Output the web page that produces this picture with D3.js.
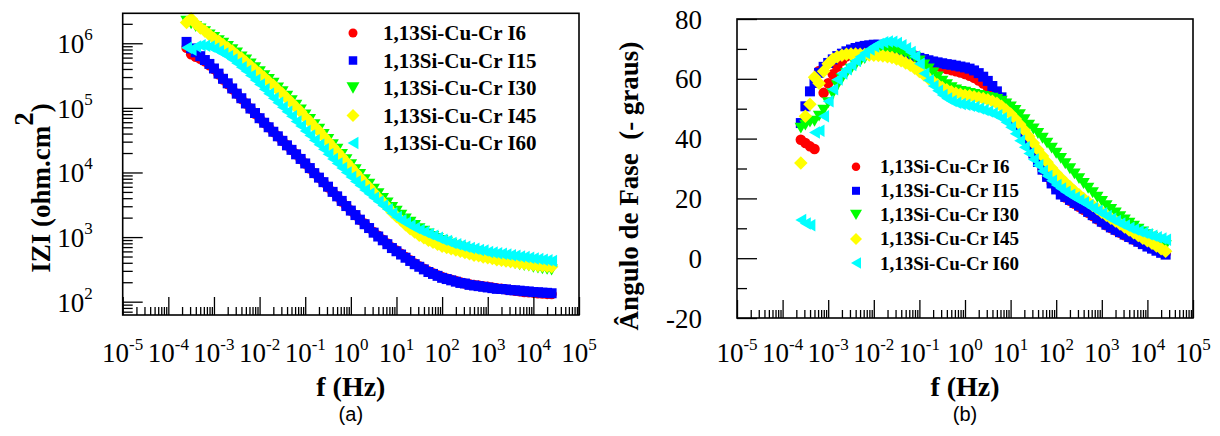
<!DOCTYPE html>
<html>
<head>
<meta charset="utf-8">
<script src="https://cdn.jsdelivr.net/npm/d3@7"></script>
<style>
  body { margin: 0; background: #fff; }
</style>
</head>
<body>
<script>
// frequency (Hz), shared by all runs
var freqHz = [2.51e-4, 3.16e-4, 3.98e-4, 5.01e-4, 6.31e-4, 7.94e-4,
  1e-3, 1.26e-3, 1.58e-3, 2e-3, 2.51e-3, 3.16e-3, 3.98e-3, 5.01e-3, 6.31e-3, 7.94e-3,
  1e-2, 1.26e-2, 1.58e-2, 2e-2, 2.51e-2, 3.16e-2, 3.98e-2, 5.01e-2, 6.31e-2, 7.94e-2,
  0.1, 0.126, 0.158, 0.2, 0.251, 0.316, 0.398, 0.501, 0.631, 0.794,
  1, 1.26, 1.58, 2, 2.51, 3.16, 3.98, 5.01, 6.31, 7.94,
  10, 12.6, 15.8, 20, 25.1, 31.6, 39.8, 50.1, 63.1, 79.4,
  100, 126, 158, 200, 251, 316, 398, 501, 631, 794,
  1000, 1260, 1580, 2000, 2510, 3160, 3980, 5010, 6310, 7940,
  10000, 12600, 15800, 20000, 25100];

var seriesNames = ['1,13Si-Cu-Cr I6', '1,13Si-Cu-Cr I15', '1,13Si-Cu-Cr I30', '1,13Si-Cu-Cr I45', '1,13Si-Cu-Cr I60'];

// |Z| (ohm.cm2)
var zI6 = [8.51e5, 6.76e5, 6.17e5, 5.75e5, 5.25e5, 4.57e5, 3.98e5, 3.31e5, 2.75e5, 2.34e5,
  1.95e5, 1.66e5, 1.38e5, 1.17e5, 9.77e4, 8.13e4, 6.92e4, 5.89e4, 5.01e4, 4.27e4,
  3.63e4, 3.09e4, 2.63e4, 2.24e4, 1.91e4, 1.62e4, 1.38e4, 1.15e4, 9.77e3, 8.32e3,
  7.08e3, 5.89e3, 5.01e3, 4.27e3, 3.55e3, 3.02e3, 2.57e3, 2.19e3, 1.86e3, 1.62e3,
  1.38e3, 1.20e3, 1.05e3, 912, 794, 692, 617, 550, 490, 437,
  389, 355, 324, 295, 275, 257, 240, 229, 219, 209,
  200, 191, 186, 182, 178, 174, 170, 166, 162, 158,
  155, 151, 148, 145, 141, 140, 138, 135, 134, 132, 131];
var zI15 = [1.05e6, 8.32e5, 7.24e5, 6.31e5, 5.50e5, 4.79e5, 4.07e5, 3.39e5, 2.82e5, 2.40e5,
  2.00e5, 1.66e5, 1.41e5, 1.17e5, 9.77e4, 8.32e4, 6.92e4, 5.89e4, 5.01e4, 4.27e4,
  3.63e4, 3.09e4, 2.63e4, 2.24e4, 1.91e4, 1.62e4, 1.38e4, 1.17e4, 9.77e3, 8.32e3,
  7.08e3, 6.03e3, 5.01e3, 4.27e3, 3.63e3, 3.02e3, 2.57e3, 2.19e3, 1.86e3, 1.58e3,
  1.38e3, 1.17e3, 1.02e3, 891, 776, 676, 603, 537, 479, 427,
  380, 347, 316, 288, 269, 251, 234, 224, 214, 204,
  195, 191, 182, 178, 174, 170, 166, 162, 158, 157,
  155, 151, 150, 148, 145, 144, 141, 140, 138, 137, 135];
var zI30 = [2.19e6, 2.00e6, 1.82e6, 1.66e6, 1.51e6, 1.35e6, 1.23e6, 1.10e6, 1.00e6, 8.91e5,
  7.94e5, 7.08e5, 6.17e5, 5.50e5, 4.79e5, 4.17e5, 3.63e5, 3.16e5, 2.75e5, 2.40e5,
  2.04e5, 1.78e5, 1.51e5, 1.29e5, 1.10e5, 9.33e4, 7.76e4, 6.61e4, 5.50e4, 4.68e4,
  3.89e4, 3.24e4, 2.69e4, 2.29e4, 1.91e4, 1.58e4, 1.32e4, 1.10e4, 9.33e3, 7.76e3,
  6.61e3, 5.50e3, 4.68e3, 3.98e3, 3.39e3, 2.88e3, 2.51e3, 2.19e3, 1.91e3, 1.70e3,
  1.51e3, 1.35e3, 1.23e3, 1.12e3, 1.02e3, 955, 891, 832, 776, 724,
  692, 646, 617, 589, 562, 537, 501, 479, 457, 437,
  417, 398, 389, 372, 363, 355, 339, 331, 324, 316, 309];
var zI45 = [2.09e6, 2.40e6, 2.00e6, 1.74e6, 1.55e6, 1.35e6, 1.20e6, 1.07e6, 9.55e5, 8.51e5,
  7.59e5, 6.61e5, 5.89e5, 5.13e5, 4.47e5, 3.89e5, 3.39e5, 2.95e5, 2.57e5, 2.24e5,
  1.91e5, 1.66e5, 1.41e5, 1.20e5, 1.02e5, 8.71e4, 7.24e4, 6.17e4, 5.13e4, 4.37e4,
  3.63e4, 3.02e4, 2.51e4, 2.09e4, 1.74e4, 1.45e4, 1.20e4, 1.00e4, 8.32e3, 6.92e3,
  5.89e3, 4.90e3, 4.07e3, 3.47e3, 2.95e3, 2.45e3, 2.09e3, 1.82e3, 1.55e3, 1.35e3,
  1.20e3, 1.07e3, 977, 891, 832, 776, 724, 692, 661, 631,
  603, 575, 550, 525, 513, 490, 479, 468, 447, 437,
  427, 417, 407, 398, 389, 380, 372, 363, 360, 355, 347];
var zI60 = [8.51e5, 7.94e5, 8.91e5, 9.33e5, 9.12e5, 8.91e5, 8.32e5, 7.59e5, 6.92e5, 6.31e5,
  5.62e5, 4.90e5, 4.27e5, 3.72e5, 3.16e5, 2.69e5, 2.29e5, 1.95e5, 1.66e5, 1.41e5,
  1.20e5, 1.02e5, 8.71e4, 7.41e4, 6.17e4, 5.25e4, 4.37e4, 3.72e4, 3.16e4, 2.69e4,
  2.29e4, 1.91e4, 1.62e4, 1.38e4, 1.17e4, 1.00e4, 8.51e3, 7.24e3, 6.31e3, 5.37e3,
  4.68e3, 4.07e3, 3.55e3, 3.09e3, 2.69e3, 2.34e3, 2.04e3, 1.82e3, 1.66e3, 1.51e3,
  1.38e3, 1.29e3, 1.20e3, 1.12e3, 1.05e3, 977, 912, 871, 813, 776,
  741, 708, 676, 661, 631, 617, 589, 575, 562, 550,
  537, 525, 513, 501, 490, 479, 468, 457, 447, 437, 427];

// phase angle (- degrees)
var phI6 = [39.6, 38.5, 37.4, 36.5, 62.6, 55.3, 58.5, 61.5, 64.0, 66.0,
  67.5, 68.6, 69.4, 70.0, 70.5, 70.8, 71.0, 71.1, 71.0, 70.8,
  70.4, 69.9, 69.3, 68.6, 67.9, 67.2, 66.5, 65.9, 65.3, 64.7,
  64.2, 63.7, 63.3, 62.9, 62.5, 62.1, 61.6, 61.0, 60.3, 59.4,
  58.4, 57.2, 55.9, 54.4, 52.7, 50.8, 48.7, 46.3, 43.7, 40.9,
  38.0, 35.1, 32.3, 29.7, 27.3, 25.2, 23.3, 21.7, 20.3, 19.2,
  18.2, 17.2, 16.2, 15.2, 14.1, 13.0, 12.0, 11.0, 10.1, 9.3,
  8.5, 7.7, 7.0, 6.2, 5.5, 4.8, 4.1, 3.4, 2.8, 2.2, 1.6];
var phI15 = [45.2, 50.8, 55.8, 58.6, 62.0, 64.0, 65.3, 66.5, 67.6, 68.4,
  69.2, 69.8, 70.3, 70.7, 71.0, 71.2, 71.4, 71.4, 71.3, 71.1,
  70.6, 70.1, 69.5, 68.8, 68.1, 67.5, 67.0, 66.6, 66.2, 65.8,
  65.5, 65.2, 64.9, 64.7, 64.4, 64.1, 63.8, 63.4, 62.8, 61.9,
  60.7, 59.3, 57.6, 55.8, 53.8, 51.6, 49.2, 46.6, 43.8, 40.9,
  37.9, 35.0, 32.2, 29.6, 27.2, 25.0, 23.0, 21.3, 20.5, 19.5,
  18.5, 17.6, 16.6, 15.5, 14.4, 13.3, 12.2, 11.2, 10.3, 9.5,
  8.7, 7.9, 7.1, 6.3, 5.5, 4.7, 3.9, 3.2, 2.5, 1.8, 1.2];
var phI30 = [43.5, 44.5, 45.5, 45.8, 47.5, 49.5, 52.0, 55.0, 57.7, 60.0,
  61.8, 63.2, 64.6, 65.8, 66.8, 67.7, 68.5, 69.1, 69.5, 69.7,
  69.6, 69.3, 68.9, 68.4, 67.8, 67.1, 66.0, 64.6, 63.3, 62.0,
  60.6, 59.2, 58.0, 57.0, 56.3, 55.8, 55.5, 55.1, 54.8, 54.4,
  54.1, 53.8, 53.5, 53.1, 52.5, 51.6, 50.6, 49.4, 48.0, 46.3,
  44.5, 43.2, 41.7, 40.1, 38.5, 36.8, 35.1, 33.4, 31.6, 29.9,
  28.2, 26.6, 25.0, 23.4, 21.9, 20.4, 19.0, 17.6, 16.3, 15.1,
  13.9, 12.8, 11.7, 10.7, 9.7, 8.8, 7.9, 7.0, 6.1, 5.2, 4.2];
var phI45 = [31.8, 47.5, 51.5, 60.5, 58.5, 62.5, 65.0, 66.5, 67.4, 67.9,
  68.2, 68.3, 68.3, 68.2, 68.1, 68.0, 67.9, 67.8, 67.6, 67.4,
  67.1, 66.6, 66.0, 65.3, 64.5, 63.5, 62.4, 61.3, 60.1, 59.0,
  58.0, 57.1, 56.3, 55.7, 55.2, 54.8, 54.5, 54.3, 54.0, 53.7,
  53.4, 53.0, 52.5, 51.8, 50.8, 49.6, 48.2, 46.6, 44.8, 42.8,
  40.7, 38.5, 36.3, 34.2, 32.1, 30.2, 28.4, 26.8, 25.3, 23.9,
  22.5, 21.2, 20.0, 18.8, 17.6, 16.5, 15.4, 14.4, 13.4, 12.4,
  11.4, 10.4, 9.4, 8.5, 7.6, 6.7, 5.8, 5.0, 4.1, 3.2, 2.3];
var phI60 = [12.8, 11.6, 11.0, 42.0, 42.6, 47.5, 52.5, 56.5, 59.8, 61.8,
  63.2, 64.6, 66.0, 67.4, 68.6, 69.8, 70.8, 71.6, 72.2, 72.5,
  72.4, 72.0, 71.2, 70.2, 69.0, 67.5, 65.0, 61.8, 59.5, 57.6,
  56.0, 54.6, 53.4, 52.6, 52.0, 51.6, 51.3, 51.0, 50.6, 50.1,
  49.6, 49.1, 48.5, 47.8, 46.8, 45.5, 43.8, 41.6, 39.3, 37.1,
  35.0, 33.0, 31.1, 29.2, 27.5, 25.9, 24.5, 23.3, 22.2, 21.2,
  20.3, 19.5, 18.6, 17.7, 16.8, 15.9, 15.0, 14.1, 13.2, 12.4,
  11.6, 10.9, 10.2, 9.6, 9.0, 8.5, 8.0, 7.5, 7.0, 6.6, 6.2];

// tick labels
var freqTickExp = [-5, -4, -3, -2, -1, 0, 1, 2, 3, 4, 5];
var zTickExp = [2, 3, 4, 5, 6];
var phaseTicks = [-20, 0, 20, 40, 60, 80];

var colors = ['#ff0000', '#0000ff', '#00ff00', '#ffff00', '#00ffff'];
var SERIF = '"Liberation Serif", "DejaVu Serif", "Times New Roman", serif';
var SANS = '"Liberation Sans", Arial, sans-serif';

// marker shapes, size = width in px
var shapes = [
  { draw: function (c, s) { c.moveTo(s / 2, 0); c.arc(0, 0, s / 2, 0, 2 * Math.PI); } },
  { draw: function (c, s) { c.rect(-s / 2, -s / 2, s, s); } },
  { draw: function (c, s) { var h = s * 0.87; c.moveTo(-s / 2, -h / 2); c.lineTo(s / 2, -h / 2); c.lineTo(0, h / 2); c.closePath(); } },
  { draw: function (c, s) { c.moveTo(0, -s / 2); c.lineTo(s / 2, 0); c.lineTo(0, s / 2); c.lineTo(-s / 2, 0); c.closePath(); } },
  { draw: function (c, s) { var h = s * 0.87; c.moveTo(-h / 2, 0); c.lineTo(h / 2, -s / 2); c.lineTo(h / 2, s / 2); c.closePath(); } }
];
var markSize = [10.5, 10, 12.5, 13.5, 12.5];

var svg = d3.select('body').append('svg').attr('width', 1220).attr('height', 436)
  .attr('font-family', SERIF);

function isDecade(v) {
  var l = Math.log10(v);
  return Math.abs(l - Math.round(l)) < 1e-9;
}

function txt(sel) {
  return sel.append('text').style('font-family', SERIF).attr('fill', '#000');
}

function drawPanel(p) {
  var g = svg.append('g');
  var x = d3.scaleLog().domain([1e-5, 1e5]).range([p.left, p.right]);
  var y = p.y;

  // points
  p.values.forEach(function (vals, k) {
    var sym = d3.symbol().type(shapes[k]).size(markSize[k]);
    g.append('g')
      .selectAll('path')
      .data(freqHz.map(function (f, i) { return [f, vals[i]]; }))
      .join('path')
      .attr('transform', function (d) { return 'translate(' + x(d[0]) + ',' + y(d[1]) + ')'; })
      .attr('d', sym)
      .attr('fill', colors[k]);
  });

  // x axis, ticks pointing in
  var allX = x.ticks(20);
  var ax = g.append('g').attr('transform', 'translate(0,' + p.bottom + ')');
  ax.append('g').call(d3.axisBottom(x).tickValues(allX.filter(function (v) { return !isDecade(v); })).tickSize(-8).tickFormat(''));
  ax.append('g').call(d3.axisBottom(x).tickValues(allX.filter(isDecade)).tickSize(-18).tickFormat(''));
  ax.selectAll('.domain').remove();
  ax.selectAll('line').attr('stroke', '#000').attr('stroke-width', 1.3);

  freqTickExp.forEach(function (d) {
    var t = txt(g)
      .attr('x', x(Math.pow(10, d)))
      .attr('y', 362)
      .attr('text-anchor', 'middle')
      .attr('font-size', 27);
    t.append('tspan').text('10');
    t.append('tspan').attr('dy', -12).attr('font-size', 17).text(d);
  });

  // y axis
  var ay = g.append('g').attr('transform', 'translate(' + p.left + ',0)');
  ay.append('g').call(d3.axisLeft(y).tickValues(p.yMinor).tickSize(-10).tickFormat(''));
  ay.append('g').call(d3.axisLeft(y).tickValues(p.yMajor).tickSize(-20).tickFormat(''));
  ay.selectAll('.domain').remove();
  ay.selectAll('line').attr('stroke', '#000').attr('stroke-width', 1.3);
  p.yLabels(g, y);

  // frame
  g.append('rect')
    .attr('x', p.left).attr('y', p.top)
    .attr('width', p.right - p.left).attr('height', p.bottom - p.top)
    .attr('fill', 'none').attr('stroke', '#000').attr('stroke-width', 1.6);

  // titles
  txt(g)
    .attr('x', (p.left + p.right) / 2).attr('y', 396)
    .attr('text-anchor', 'middle').attr('font-size', 28).attr('font-weight', 'bold')
    .text('f (Hz)');
  g.append('text')
    .attr('x', (p.left + p.right) / 2).attr('y', 421)
    .attr('text-anchor', 'middle').attr('font-size', 20)
    .style('font-family', SANS)
    .text(p.tag);
  p.yTitle(g);

  // legend
  var lg = g.append('g');
  seriesNames.forEach(function (name, k) {
    var cy = p.leg.y + k * p.leg.dy;
    lg.append('path')
      .attr('transform', 'translate(' + p.leg.x + ',' + cy + ')')
      .attr('d', d3.symbol().type(shapes[k]).size(p.leg.sizes[k]))
      .attr('fill', colors[k]);
    txt(lg)
      .attr('x', p.leg.tx).attr('y', cy + p.leg.fs * 0.34)
      .attr('font-size', p.leg.fs).attr('font-weight', 'bold')
      .text(name);
  });
}

// (a) impedance modulus
var yZ = d3.scaleLog().domain([62.2, 2.91e6]).range([315, 13.3]);
var zAll = yZ.ticks(10);
drawPanel({
  left: 122.7, right: 579, top: 13.3, bottom: 315,
  y: yZ,
  values: [zI6, zI15, zI30, zI45, zI60],
  yMajor: zAll.filter(isDecade),
  yMinor: zAll.filter(function (v) { return !isDecade(v); }),
  yLabels: function (g, y) {
    zTickExp.forEach(function (d) {
      var t = txt(g)
        .attr('x', 92.7)
        .attr('y', y(Math.pow(10, d)) + 10)
        .attr('text-anchor', 'end')
        .attr('font-size', 27);
      t.append('tspan').text('10');
      t.append('tspan').attr('dy', -13).attr('font-size', 17).text(d);
    });
  },
  yTitle: function (g) {
    var t = txt(g)
      .attr('transform', 'translate(50,188) rotate(-90)')
      .attr('text-anchor', 'middle').attr('font-size', 27).attr('font-weight', 'bold');
    t.append('tspan').text('IZI (ohm.cm');
    t.append('tspan').attr('dy', -17).attr('font-size', 27).text('2');
    t.append('tspan').attr('dy', 17).text(')');
  },
  tag: '(a)',
  leg: { x: 353, tx: 383, y: 33, dy: 27.5, fs: 21, sizes: [9, 8.5, 13, 13, 12.5] }
});

// (b) phase angle
var yPh = d3.scaleLinear().domain([-20, 80]).range([318, 19]);
drawPanel({
  left: 737, right: 1193, top: 19, bottom: 318,
  y: yPh,
  values: [phI6, phI15, phI30, phI45, phI60],
  yMajor: phaseTicks,
  yMinor: yPh.ticks(10).filter(function (v) { return phaseTicks.indexOf(v) < 0; }),
  yLabels: function (g, y) {
    phaseTicks.forEach(function (d) {
      txt(g)
        .attr('x', 702)
        .attr('y', y(d) + 9.5)
        .attr('text-anchor', 'end')
        .attr('font-size', 27)
        .text(d);
    });
  },
  yTitle: function (g) {
    txt(g)
      .attr('transform', 'translate(638,186) rotate(-90)')
      .attr('text-anchor', 'middle').attr('font-size', 27).attr('font-weight', 'bold')
      .style('white-space', 'pre')
      .text('Ângulo de Fase  (- graus)');
  },
  tag: '(b)',
  leg: { x: 856, tx: 880, y: 166.7, dy: 24.1, fs: 19, sizes: [8.5, 8, 12, 12, 11.5] }
});
</script>
</body>
</html>
